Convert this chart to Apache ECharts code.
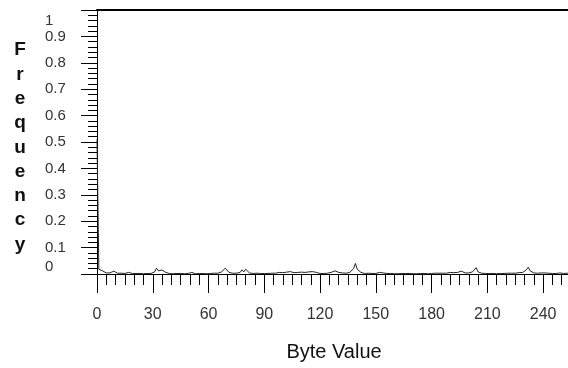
<!DOCTYPE html>
<html>
<head>
<meta charset="utf-8">
<script src="https://cdn.jsdelivr.net/npm/echarts@6/dist/echarts.min.js"></script>
<style>
  html, body { margin: 0; padding: 0; background: #fff; }
  #chart { width: 568px; height: 368px; }
</style>
</head>
<body>
<div id="chart"></div>
<script>
// byte values 0..255 and their frequency
var bytes = [];
for (var b = 0; b < 256; b++) bytes.push(b);

var freq = [
  0.51, 0.018, 0.015, 0.012, 0.006, 0.004, 0.003, 0.004, 0.009, 0.011, 0.004, 0.003, 0.002, 0.003, 0.002, 0.002,
  0.003, 0.006, 0.002, 0.002, 0.001, 0.002, 0.001, 0.002, 0.002, 0.001, 0.002, 0.002, 0.003, 0.002, 0.004, 0.008,
  0.022, 0.012, 0.006, 0.015, 0.018, 0.006, 0.003, 0.002, 0.002, 0.001, 0.002, 0.002, 0.001, 0.002, 0.002, 0.001,
  0.002, 0.002, 0.003, 0.006, 0.002, 0.001, 0.002, 0.002, 0.001, 0.002, 0.002, 0.001, 0.002, 0.002, 0.002, 0.003,
  0.002, 0.003, 0.004, 0.008, 0.014, 0.022, 0.016, 0.006, 0.004, 0.003, 0.002, 0.003, 0.004, 0.006, 0.016, 0.008,
  0.018, 0.012, 0.004, 0.003, 0.002, 0.002, 0.003, 0.002, 0.002, 0.003, 0.002, 0.003, 0.002, 0.002, 0.003, 0.004,
  0.003, 0.004, 0.006, 0.008, 0.005, 0.012, 0.007, 0.006, 0.009, 0.006, 0.005, 0.010, 0.006, 0.005, 0.007, 0.005,
  0.006, 0.004, 0.008, 0.012, 0.009, 0.014, 0.006, 0.003, 0.002, 0.003, 0.002, 0.002, 0.003, 0.004, 0.006, 0.008,
  0.012, 0.009, 0.006, 0.011, 0.004, 0.003, 0.003, 0.004, 0.006, 0.012, 0.020, 0.040, 0.018, 0.015, 0.006, 0.003,
  0.002, 0.002, 0.003, 0.002, 0.002, 0.003, 0.002, 0.004, 0.006, 0.011, 0.004, 0.002, 0.002, 0.001, 0.002, 0.002,
  0.001, 0.002, 0.001, 0.002, 0.002, 0.001, 0.002, 0.001, 0.002, 0.002, 0.001, 0.002, 0.001, 0.002, 0.002, 0.001,
  0.002, 0.002, 0.001, 0.002, 0.002, 0.002, 0.003, 0.002, 0.003, 0.004, 0.003, 0.004, 0.003, 0.004, 0.006, 0.010,
  0.005, 0.004, 0.006, 0.008, 0.011, 0.005, 0.004, 0.003, 0.004, 0.005, 0.008, 0.012, 0.024, 0.008, 0.004, 0.003,
  0.002, 0.002, 0.003, 0.002, 0.001, 0.002, 0.002, 0.001, 0.002, 0.002, 0.001, 0.002, 0.002, 0.003, 0.002, 0.003,
  0.004, 0.003, 0.004, 0.005, 0.004, 0.006, 0.010, 0.016, 0.026, 0.012, 0.006, 0.004, 0.007, 0.003, 0.002, 0.004,
  0.008, 0.004, 0.002, 0.003, 0.002, 0.002, 0.003, 0.002, 0.003, 0.004, 0.003, 0.002, 0.002, 0.003, 0.004, 0.003
];

var xTicks = [0, 30, 60, 90, 120, 150, 180, 210, 240];
var yTicks = [0, 0.1, 0.2, 0.3, 0.4, 0.5, 0.6, 0.7, 0.8, 0.9, 1];

var labelFont = "Liberation Sans";

var myChart = echarts.init(document.getElementById("chart"), null, { renderer: "canvas" });
var option = {
  animation: false,
  // stacked y axis title
  title: {
    text: "F\nr\ne\nq\nu\ne\nn\nc\ny",
    left: 20,
    top: 38,
    textAlign: "center",
    padding: 0,
    textStyle: {
      color: "#111",
      fontSize: 19,
      fontWeight: "bold",
      lineHeight: 24.3,
      fontFamily: labelFont
    }
  },
  grid: { left: 97, top: 10, right: -3, bottom: 94, containLabel: false, outerBoundsMode: "none" },
  xAxis: [
    {
      type: "value",
      min: 0,
      max: 255,
      interval: 30,
      name: "Byte Value",
      nameLocation: "middle",
      nameGap: 68,
      nameTextStyle: { color: "#111", fontSize: 20, fontFamily: labelFont },
      axisLine: { show: true, lineStyle: { color: "#000", width: 1 } },
      axisTick: { show: true, length: 19, lineStyle: { color: "#000" } },
      minorTick: { show: true, splitNumber: 6, length: 11, lineStyle: { color: "#000" } },
      splitLine: { show: false },
      axisLabel: {
        margin: 33,
        color: "#333",
        fontSize: 16,
        fontFamily: labelFont,
        showMaxLabel: false,
        formatter: function (v) {
          return xTicks.indexOf(v) >= 0 ? String(v) : "";
        }
      }
    },
    {
      // top border
      type: "value",
      position: "top",
      min: 0,
      max: 255,
      axisLine: { show: true, onZero: false, lineStyle: { color: "#000", width: 2 } },
      axisTick: { show: false },
      axisLabel: { show: false },
      splitLine: { show: false }
    }
  ],
  yAxis: {
    type: "value",
    min: 0,
    max: 1,
    interval: 0.1,
    axisLine: { show: true, lineStyle: { color: "#000", width: 1 } },
    axisTick: { show: true, length: 16, lineStyle: { color: "#000" } },
    minorTick: { show: true, splitNumber: 5, length: 9, lineStyle: { color: "#000" } },
    splitLine: { show: false },
    axisLabel: {
      align: "left",
      margin: 52,
      color: "#333",
      fontSize: 15,
      fontFamily: labelFont,
      showMinLabel: true,
      showMaxLabel: true,
      hideOverlap: false,
      formatter: function (v) {
        var s = String(Math.round(v * 10) / 10);
        if (v >= 1) return "{t|" + s + "}";
        if (v <= 0) return "{b|" + s + "}";
        return s;
      },
      rich: {
        t: { fontSize: 15, color: "#333", fontFamily: labelFont, padding: [22, 0, 0, 0] },
        b: { fontSize: 15, color: "#333", fontFamily: labelFont, padding: [0, 0, 14, 0] }
      }
    }
  },
  series: [
    {
      name: "Frequency",
      type: "line",
      xAxisIndex: 0,
      showSymbol: false,
      symbol: "none",
      lineStyle: { color: "#222", width: 1 },
      data: freq.map(function (v, i) { return [bytes[i], v]; })
    }
  ]
};

option && myChart.setOption(option);
</script>
</body>
</html>
